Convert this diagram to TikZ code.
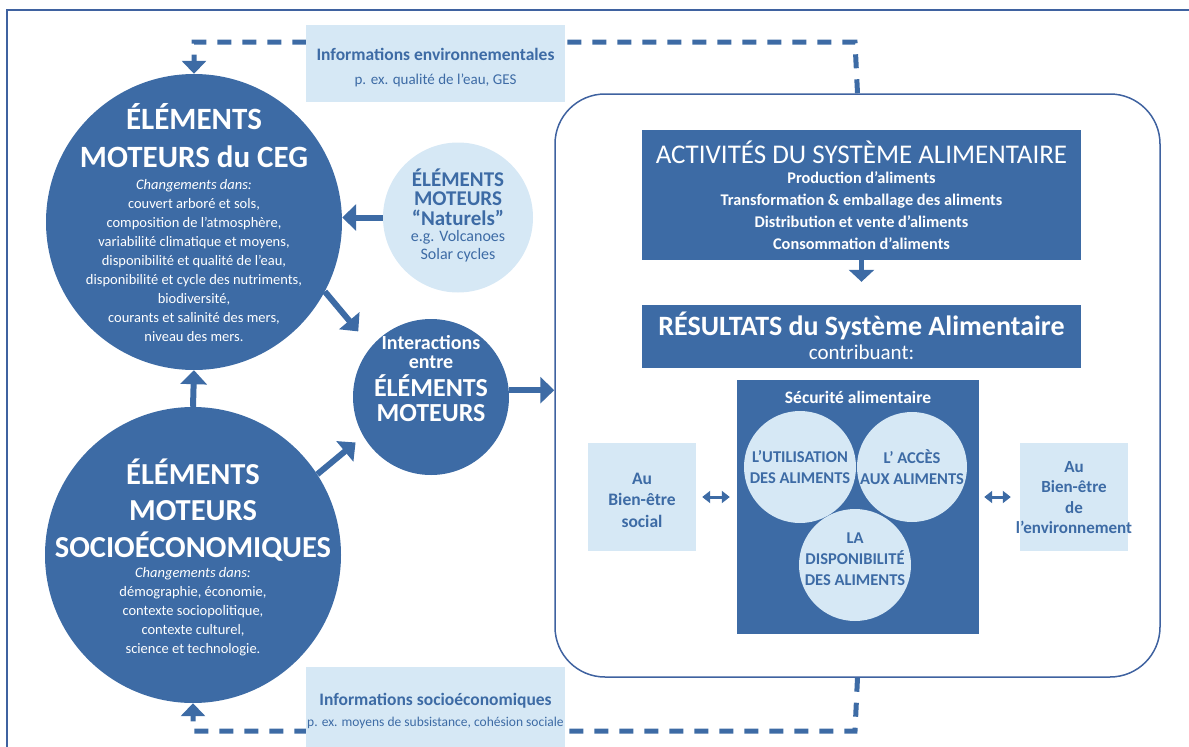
\documentclass[tikz,border=0pt]{standalone}
\usepackage{fontspec}
\setmainfont{Carlito}
\usetikzlibrary{arrows.meta,positioning}
\definecolor{fondbleu}{HTML}{3D6BA5}
\definecolor{bleuclair}{HTML}{D6E8F5}
\definecolor{traitbleu}{HTML}{3F62A0}
\newcommand{\grandtitre}{\fontsize{31}{38}\selectfont\bfseries}
\newcommand{\corpsdisque}{\fontsize{14.5}{19}\selectfont}
\newcommand{\titreinfo}{\fontsize{17.5}{20}\selectfont\bfseries}
\newcommand{\corpsinfo}{\fontsize{13.5}{16}\selectfont}
\newcommand{\titreboite}{\fontsize{27}{30}\selectfont}
\newcommand{\itemboite}{\fontsize{16.3}{22}\selectfont\bfseries}
\newcommand{\texterond}{\fontsize{16.5}{21}\selectfont\bfseries}

\begin{document}
\begin{tikzpicture}[x=1pt, y=-1pt,
	disque/.style={circle, fill=fondbleu, inner sep=0pt},
	disqueclair/.style={circle, fill=bleuclair, inner sep=0pt},
	boite/.style={rectangle, fill=fondbleu, inner sep=0pt},
	boiteclaire/.style={rectangle, fill=bleuclair, inner sep=0pt},
	texteblanc/.style={text=white, align=center, inner sep=0pt},
	textebleu/.style={text=fondbleu, align=center, inner sep=0pt},
	fleche/.style={draw=fondbleu, line width=6pt, -{Triangle[width=26pt,length=14pt]}},
	tirets/.style={draw=fondbleu, line width=5pt, dash pattern=on 14pt off 11pt, -{Triangle[width=24pt,length=13pt]}},
	flechedouble/.style={draw=fondbleu, line width=3pt, {Triangle[width=12pt,length=8pt]}-{Triangle[width=12pt,length=8pt]}}]
	\useasboundingbox (0,0) rectangle (1189,747);
	\draw[traitbleu, line width=1.5pt] (7,747) -- (7,10) -- (1189,10);

	\node[disque, minimum size=296pt] (gec) at (194,222) {};
	\node[texteblanc, font=\grandtitre] (gec-titre) at (194,136) {ÉLÉMENTS\\MOTEURS du CEG};
	\node[texteblanc, font=\corpsdisque] (gec-corps) at (194,261) {\textit{Changements dans:}\\couvert arboré et sols,\\composition de l’atmosphère,\\variabilité climatique et moyens,\\disponibilité et qualité de l’eau,\\disponibilité et cycle des nutriments,\\biodiversité,\\courants et salinité des mers,\\niveau des mers.};

	\node[disque, minimum size=296pt] (socio) at (193,555) {};
	\node[texteblanc, font=\fontsize{30.5}{36.5}\selectfont\bfseries] (socio-titre) at (193,510) {ÉLÉMENTS\\MOTEURS\\SOCIOÉCONOMIQUES};
	\node[texteblanc, font=\corpsdisque] (socio-corps) at (193,612) {\textit{Changements dans:}\\démographie, économie,\\contexte sociopolitique,\\contexte culturel,\\science et technologie.};

	\node[disqueclair, minimum size=150pt] (nat) at (458,217.5) {};
	\node[textebleu, font=\fontsize{21}{19.5}\selectfont\bfseries] (nat-titre) at (458,197) {ÉLÉMENTS\\MOTEURS\\“Naturels”};
	\node[textebleu, font=\fontsize{16}{18.5}\selectfont] (nat-corps) at (458,246) {e.g. Volcanoes\\Solar cycles};

	\node[disque, minimum size=156pt] (inter) at (431,397) {};
	\node[texteblanc, font=\fontsize{20}{19}\selectfont\bfseries] (inter-haut) at (431,352) {Interactions\\entre};
	\node[texteblanc, font=\fontsize{26}{25}\selectfont\bfseries] (inter-bas) at (431,398) {ÉLÉMENTS\\MOTEURS};

	\node[draw=traitbleu, line width=1.5pt, rounded corners=50pt, minimum width=605pt, minimum height=583pt] (systeme) at (857.5,385.5) {};

	\coordinate (coin-haut) at (855,42);
	\coordinate (coin-bas) at (855,731);
	\draw[tirets] (systeme.north) -- (coin-haut) -| (gec.north);
	\draw[tirets] (systeme.south) -- (coin-bas) -| (socio.south);

	\node[boiteclaire, minimum width=259pt, minimum height=77pt] (infoenv) at (435.5,63.5) {};
	\node[textebleu, font=\titreinfo] (infoenv-titre) at (435.5,54) {Informations environnementales};
	\node[textebleu, font=\fontsize{15}{18}\selectfont] (infoenv-corps) at (435.5,80) {p. ex. qualité de l’eau, GES};

	\node[boiteclaire, minimum width=259pt, minimum height=82pt] (infosoc) at (435.5,708) {};
	\node[textebleu, font=\titreinfo] (infosoc-titre) at (435.5,701) {Informations socioéconomiques};
	\node[textebleu, font=\corpsinfo] (infosoc-corps) at (435.5,723) {p. ex. moyens de subsistance, cohésion sociale};

	\draw[fleche] (nat.west) -- (gec.east |- nat.west);
	\draw[fleche, shorten >=20pt] (gec.-28) -- (inter.140);
	\draw[fleche, shorten >=10pt] (socio.33) -- (inter.210);
	\draw[fleche] (socio.north) -- (gec.south);
	\draw[fleche] (inter.5) -- (systeme.west |- inter.5);

	\node[boite, minimum width=439pt, minimum height=130pt] (activites) at (861.5,195) {};
	\node[texteblanc, font=\titreboite] (activites-titre) at (861.5,152) {ACTIVITÉS DU SYSTÈME ALIMENTAIRE};
	\node[texteblanc, font=\itemboite] (activites-liste) at (861.5,211) {Production d’aliments\\Transformation \& emballage des aliments\\Distribution et vente d’aliments\\Consommation d’aliments};

	\node[boite, minimum width=439pt, minimum height=63pt] (resultats) at (861.5,336.5) {};
	\node[texteblanc, font=\fontsize{28}{30}\selectfont\bfseries] (resultats-titre) at (861.5,326) {RÉSULTATS du Système Alimentaire};
	\node[texteblanc, font=\fontsize{21}{24}\selectfont] (resultats-sous) at (861.5,352) {contribuant:};
	\draw[fleche, line width=5pt, -{Triangle[width=25pt,length=12pt]}, shorten >=23pt] (activites.south) -- (resultats.north);

	\node[boite, minimum width=242pt, minimum height=254pt] (secu) at (858,507) {};
	\node[texteblanc, font=\fontsize{17.5}{20}\selectfont\bfseries] (secu-titre) at (858,397) {Sécurité alimentaire};
	\node[disqueclair, minimum size=112pt] (util) at (800,467) {};
	\node[disqueclair, minimum size=110pt] (acces) at (912,467) {};
	\node[disqueclair, minimum size=112pt] (dispo) at (855,565) {};
	\node[textebleu, font=\texterond] at (util) {L’UTILISATION\\DES ALIMENTS};
	\node[textebleu, font=\texterond] at (acces) {L’ ACCÈS\\AUX ALIMENTS};
	\node[textebleu, font=\texterond] at (855,559) {LA\\DISPONIBILITÉ\\DES ALIMENTS};

	\node[boiteclaire, minimum size=108pt] (social) at (642,497) {};
	\node[textebleu, font=\fontsize{17.5}{21.5}\selectfont\bfseries] at (642,500) {Au\\Bien-être\\social};
	\node[boiteclaire, minimum size=108pt] (environ) at (1074,497) {};
	\node[textebleu, font=\fontsize{17}{20.5}\selectfont\bfseries] at (1074,497.5) {Au\\Bien-être\\de\\l’environnement};

	\draw[flechedouble, shorten <=6pt, shorten >=7pt] (social.east) -- (social.east -| secu.west);
	\draw[flechedouble, shorten <=5pt, shorten >=9pt] (environ.west -| secu.east) -- (environ.west);
\end{tikzpicture}
\end{document}
